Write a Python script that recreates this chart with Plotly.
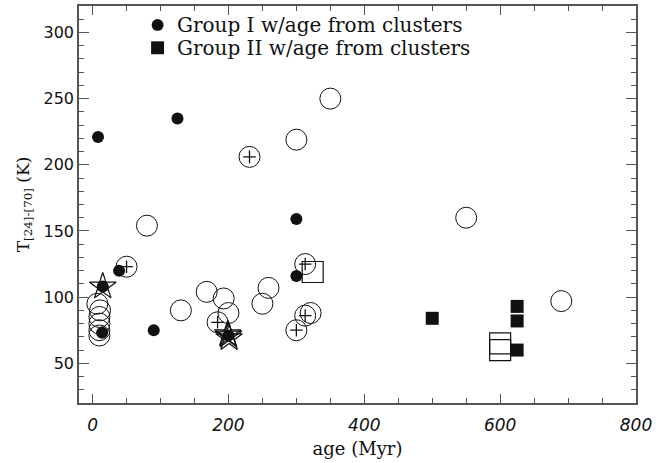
import plotly.graph_objects as go

# Group I with age from clusters (filled circles)
g1_age = [8, 125, 300, 300, 39, 14, 90, 15, 200]
g1_temp = [221, 235, 159, 116, 120, 73, 75, 108, 71]

# Group II with age from clusters (filled squares)
g2_age = [500, 625, 625, 625]
g2_temp = [84, 93, 82, 60]

# Other sources (open circles)
oc_age = [350, 300, 80, 550, 690, 168, 193, 200, 130, 259, 250, 321, 7, 11, 10, 10, 10, 10]
oc_temp = [250, 219, 154, 160, 97, 104, 99, 88, 90, 107, 95, 88, 95, 90, 85, 80, 75, 71]

# Open circles with a plus sign
pc_age = [231, 50, 313, 184, 300, 313]
pc_temp = [206, 123, 125, 81, 75, 86]

# Open squares
os_age = [324, 600, 600]
os_temp = [119, 65, 60]

# Stars
st_age = [15, 200, 201, 199]
st_temp = [108, 71, 69, 72]

x_ticks = [0, 200, 400, 600, 800]
y_ticks = [50, 100, 150, 200, 250, 300]

legend_labels = ["Group I w/age from clusters", "Group II w/age from clusters"]

INK = "#111111"
fig = go.Figure()

fig.add_trace(go.Scatter(x=oc_age, y=oc_temp, mode="markers", showlegend=False,
                         marker=dict(symbol="circle-open", size=21, color=INK, line=dict(width=1))))
fig.add_trace(go.Scatter(x=pc_age, y=pc_temp, mode="markers", showlegend=False,
                         marker=dict(symbol="circle-open", size=21, color=INK, line=dict(width=1))))
fig.add_trace(go.Scatter(x=pc_age, y=pc_temp, mode="markers", showlegend=False,
                         marker=dict(symbol="cross-thin-open", size=9, color=INK, line=dict(width=1.3, color=INK))))
fig.add_trace(go.Scatter(x=os_age, y=os_temp, mode="markers", showlegend=False,
                         marker=dict(symbol="square-open", size=21, color=INK, line=dict(width=1.2))))
fig.add_trace(go.Scatter(x=st_age, y=st_temp, mode="markers", showlegend=False,
                         marker=dict(symbol="star-open", size=20, color=INK, line=dict(width=1.2))))
fig.add_trace(go.Scatter(x=g1_age, y=g1_temp, mode="markers", name=legend_labels[0], showlegend=False,
                         marker=dict(symbol="circle", size=12, color=INK, line=dict(width=0))))
fig.add_trace(go.Scatter(x=g2_age, y=g2_temp, mode="markers", name=legend_labels[1], showlegend=False,
                         marker=dict(symbol="square", size=13, color=INK, line=dict(width=0))))

# Legend drawn inside the plot frame (pixel geometry of the plot area)
L, R, T, B = 79, 639, 4, 403
W, H = R - L, B - T
def px(x):
    return (x - L) / W
def py(y):
    return (B - y) / H

rows_y = [23, 46]
sym_x = 158
text_x = 176
shapes = [
    dict(type="circle", xref="paper", yref="paper",
         x0=px(sym_x - 6), x1=px(sym_x + 6), y0=py(rows_y[0] + 6), y1=py(rows_y[0] - 6),
         fillcolor=INK, line=dict(width=0)),
    dict(type="rect", xref="paper", yref="paper",
         x0=px(sym_x - 6.5), x1=px(sym_x + 6.5), y0=py(rows_y[1] + 6.5), y1=py(rows_y[1] - 6.5),
         fillcolor=INK, line=dict(width=0)),
]
annotations = [
    dict(text=lbl, xref="paper", yref="paper", x=px(text_x), y=py(yy), xanchor="left", yanchor="middle",
         showarrow=False, font=dict(family="DejaVu Serif", size=20, color=INK))
    for lbl, yy in zip(legend_labels, rows_y)
]

axis_common = dict(showgrid=False, zeroline=False, showline=True, linecolor="#555555", linewidth=1.5,
                   mirror="allticks", ticks="inside", tickcolor="#555555", tickwidth=1.2)

fig.update_layout(
    width=656, height=463,
    margin=dict(l=L, r=656 - R, t=T, b=463 - B),
    paper_bgcolor="white", plot_bgcolor="white",
    font=dict(family="DejaVu Serif", color=INK, size=16),
    showlegend=False,
    shapes=shapes,
    annotations=annotations,
    xaxis=dict(range=[-20, 800], tickvals=x_ticks, ticklen=9, ticklabelstandoff=6,
               minor=dict(dtick=50, ticklen=5, ticks="inside", tickcolor="#555555"),
               tickfont=dict(family="DejaVu Sans", size=17, style="italic", color=INK),
               title=dict(text="age (Myr)", font=dict(family="DejaVu Serif", size=18), standoff=8),
               **axis_common),
    yaxis=dict(range=[20, 320], tickvals=y_ticks, ticklen=10,
               minor=dict(dtick=10, ticklen=5, ticks="inside", tickcolor="#555555"),
               tickfont=dict(family="DejaVu Sans", size=16, color=INK),
               title=dict(text="T<sub>[24]-[70]</sub> (K)", font=dict(family="DejaVu Serif", size=17), standoff=10),
               **axis_common),
)

fig.write_html("out.html")
